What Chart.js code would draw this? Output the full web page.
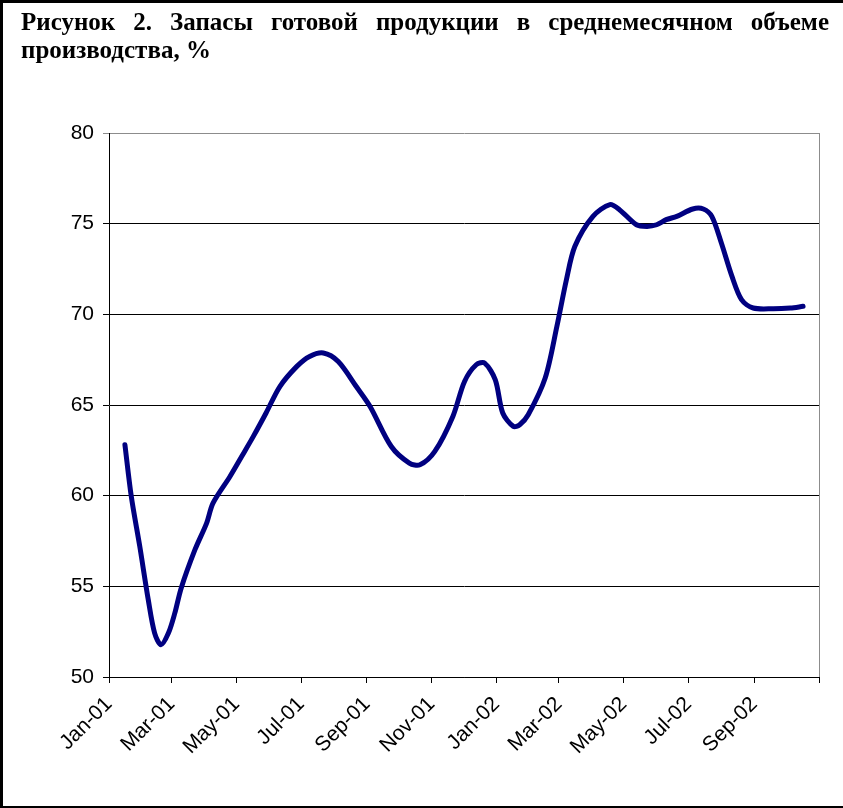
<!DOCTYPE html>
<html>
<head>
<meta charset="utf-8">
<script src="https://cdn.jsdelivr.net/npm/chart.js@4"></script>
<style>
  html, body { margin: 0; padding: 0; background: #fff; }
  body { width: 843px; height: 808px; position: relative; overflow: hidden; }
  #frame {
    position: absolute; left: 0; top: 0; width: 860px; height: 803px;
    border-top: 3px solid #000; border-left: 3px solid #000; border-bottom: 3px solid #000;
  }
  #title {
    position: absolute; left: 21px; top: 8px; width: 808px;
    font-family: "Liberation Serif", "Times New Roman", serif;
    font-weight: bold; font-size: 25px; line-height: 28px; color: #000;
  }
  #title .first { text-align: justify; text-align-last: justify; white-space: nowrap; }
  canvas { position: absolute; left: 0; top: 0; }
</style>
</head>
<body>
<div id="frame"></div>
<canvas id="stockChart" width="843" height="808"></canvas>
<div id="title">
  <div class="first">Рисунок 2. Запасы готовой продукции в среднемесячном объеме</div>
  <div>производства, %</div>
</div>
<script>
// days counted from 1 Jan 2001
const dayOffsets = [15, 21, 29, 37, 43, 49, 56, 62, 68, 81,
  92, 98, 114, 125, 136, 148, 161, 177, 189, 202,
  216, 233, 246, 266, 283, 293, 307, 324, 335, 346,
  354, 364, 371, 381, 387, 395, 411, 422, 431, 439,
  456, 472, 481, 497, 507, 516, 525, 535, 550, 560,
  568, 577, 587, 596, 607, 626, 642, 654];

const stockValues = [62.81, 59.96, 57.20, 54.26, 52.42, 51.78, 52.42, 53.52, 54.90, 57.02,
  58.49, 59.59, 61.06, 62.16, 63.27, 64.56, 66.02, 67.13, 67.68, 67.87,
  67.40, 66.02, 64.92, 62.71, 61.80, 61.70, 62.44, 64.37, 66.30, 67.22,
  67.31, 66.39, 64.56, 63.82, 63.91, 64.46, 66.49, 69.33, 71.91, 73.75,
  75.40, 76.05, 75.77, 74.94, 74.85, 74.94, 75.22, 75.40, 75.81, 75.81,
  75.40, 73.93, 72.09, 70.81, 70.35, 70.31, 70.35, 70.44];

// month starts on the date axis
const tickDays = [0, 59, 120, 181, 243, 304, 365, 424, 485, 546, 608, 669];
const tickLabels = ['Jan-01', 'Mar-01', 'May-01', 'Jul-01', 'Sep-01', 'Nov-01',
  'Jan-02', 'Mar-02', 'May-02', 'Jul-02', 'Sep-02', ''];

const points = dayOffsets.map((d, i) => ({ x: d, y: stockValues[i] }));

// grey right edge of the plot area
const plotFrame = {
  id: 'plotFrame',
  afterDraw(chart) {
    const { ctx, chartArea } = chart;
    ctx.save();
    ctx.strokeStyle = '#8c8c8c';
    ctx.lineWidth = 1;
    ctx.beginPath();
    ctx.moveTo(Math.round(chartArea.right) + 0.5, chartArea.top);
    ctx.lineTo(Math.round(chartArea.right) + 0.5, chartArea.bottom);
    ctx.stroke();
    ctx.restore();
  }
};

new Chart(document.getElementById('stockChart'), {
  type: 'line',
  data: {
    datasets: [{
      data: points,
      borderColor: '#000080',
      borderWidth: 5,
      pointRadius: 0,
      tension: 0.3,
      borderCapStyle: 'round',
      borderJoinStyle: 'round',
      fill: false
    }]
  },
  options: {
    responsive: false,
    animation: false,
    layout: { padding: { left: 0, top: 133, right: 24, bottom: 0 } },
    plugins: { legend: { display: false }, tooltip: { enabled: false } },
    scales: {
      x: {
        type: 'linear',
        min: 0,
        max: 669,
        afterBuildTicks: (axis) => { axis.ticks = tickDays.map(v => ({ value: v })); },
        afterFit: (scale) => {
          scale.height = 131;
          scale.paddingLeft = 0;
          scale.paddingRight = 0;
        },
        grid: { drawOnChartArea: false, drawTicks: true, tickLength: 6, color: '#000' },
        border: { display: true, color: '#000', width: 1 },
        ticks: {
          autoSkip: false,
          minRotation: 45,
          maxRotation: 45,
          padding: 9,
          color: '#000',
          font: { family: 'Liberation Sans, Arial, sans-serif', size: 21 },
          callback: (value, index) => tickLabels[index]
        }
      },
      y: {
        min: 50,
        max: 80,
        afterFit: (scale) => { scale.width = 109; },
        grid: {
          color: (c) => (c.tick && c.tick.value === 80 ? '#8c8c8c' : '#000'),
          tickLength: 6,
          lineWidth: 1
        },
        border: { display: true, color: '#000', width: 1 },
        ticks: {
          stepSize: 5,
          padding: 9,
          color: '#000',
          font: { family: 'Liberation Sans, Arial, sans-serif', size: 21 }
        }
      }
    }
  },
  plugins: [plotFrame]
});
</script>
</body>
</html>
